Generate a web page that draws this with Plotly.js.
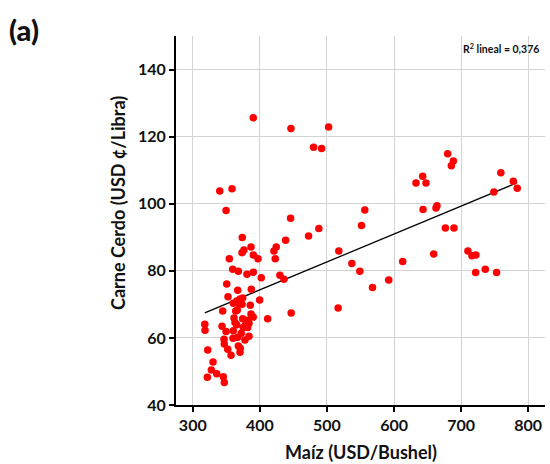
<!DOCTYPE html>
<html>
<head>
<meta charset="utf-8">
<script src="https://cdn.plot.ly/plotly-3.0.1.min.js"></script>
<style>html,body{margin:0;padding:0;background:#fff;}#chart{width:550px;height:464px;}</style>
</head>
<body>
<div id="chart"></div>
<script>
// Maíz (USD/Bushel)
const maiz = [390.2,446.3,502.4,480.1,492.0,340.2,358.5,349.6,556.4,445.8,
  551.5,487.9,472.6,373.8,438.4,386.8,424.4,376.3,373.4,421.0,
  390.2,397.2,354.5,422.9,517.7,537.1,549.0,359.5,367.9,390.2,
  380.8,402.1,429.9,435.9,350.6,387.2,367.0,352.5,399.7,370.4,
  374.4,365.5,360.4,368.5,373.4,385.7,364.0,366.4,344.6,516.7,
  446.7,386.8,390.2,411.6,361.5,374.4,381.8,317.9,318.3,343.6,
  362.9,365.5,378.3,383.8,381.8,375.3,349.6,360.4,372.3,367.0,
  360.0,377.8,383.8,346.6,347.0,367.9,370.8,352.1,370.4,357.0,
  322.3,330.2,327.7,335.7,321.7,345.5,347.0,
  567.9,592.1,612.9,659.1,643.2,662.5,664.0,632.7,642.7,647.6,
  679.9,688.4,685.4,676.5,689.3,710.1,716.1,722.0,721.6,736.0,
  752.8,759.2,748.8,777.7,783.6];
// Carne Cerdo (USD ¢/Libra)
const cerdo = [125.6,122.4,122.9,116.8,116.5,103.8,104.5,98.0,98.1,95.7,
  93.5,92.6,90.4,89.9,89.1,87.1,87.1,86.2,85.4,85.9,
  84.7,83.6,83.6,83.6,85.9,82.2,79.9,80.5,79.9,79.6,
  79.0,77.9,78.7,77.5,76.1,74.5,74.2,72.3,71.3,71.6,
  71.9,71.0,70.3,70.2,70.0,69.7,68.0,68.3,68.0,68.9,
  67.4,67.1,66.2,65.7,65.9,65.7,65.3,64.1,62.3,63.5,
  64.6,63.9,63.8,64.4,63.1,63.1,61.9,62.1,61.4,60.2,
  59.9,59.4,60.5,59.6,58.2,57.6,56.9,56.6,55.7,54.8,
  56.4,52.8,50.4,49.3,48.3,48.4,46.7,
  75.0,77.3,82.8,85.0,98.3,98.7,99.4,106.2,108.2,106.2,
  114.9,112.7,111.3,92.8,92.8,85.9,84.5,84.7,79.5,80.5,
  79.5,109.2,103.5,106.7,104.6];
const xTicks = [300,400,500,600,700,800];
const yTicks = [40,60,80,100,120,140];
const xTitle = 'Maíz (USD/Bushel)';
const yTitle = 'Carne Cerdo (USD ¢/Libra)';
const r2Label = 'R<sup>2</sup> lineal = 0,376';
const panelLabel = '(a)';

// least squares fit
const n = maiz.length;
const mx = maiz.reduce((a,b)=>a+b,0)/n;
const my = cerdo.reduce((a,b)=>a+b,0)/n;
let sxy=0, sxx=0;
for (let i=0;i<n;i++){ sxy += (maiz[i]-mx)*(cerdo[i]-my); sxx += (maiz[i]-mx)**2; }
const slope = sxy/sxx, icpt = my - slope*mx;
const xmin = Math.min(...maiz), xmax = Math.max(...maiz);

const FONT = 'Lato, sans-serif';
const W = 369; // plot width px
const H = 369; // plot height px
const traces = [
  {x:[xmin,xmax], y:[icpt+slope*xmin, icpt+slope*xmax], mode:'lines', type:'scatter',
   line:{color:'#000', width:1.3}, hoverinfo:'skip', showlegend:false},
  {x:maiz, y:cerdo, mode:'markers', type:'scatter',
   marker:{color:'#ff0000', size:7.5}, showlegend:false}
];
const layout = {
  width:550, height:464,
  margin:{l:176, r:5, t:36, b:59},
  paper_bgcolor:'#fff', plot_bgcolor:'#fff',
  font:{family:FONT, color:'#111'},
  xaxis:{range:[275,825], tickvals:xTicks, ticktext:xTicks.map(String),
    showgrid:true, gridcolor:'#d3d3d3', gridwidth:1, zeroline:false,
    showline:true, linecolor:'#000', linewidth:2,
    ticks:'outside', ticklen:5, tickwidth:2, tickcolor:'#000',
    tickfont:{family:FONT, size:16, weight:700, color:'#111'}},
  yaxis:{range:[40,150], tickvals:yTicks, ticktext:yTicks.map(String),
    showgrid:true, gridcolor:'#d3d3d3', gridwidth:1, zeroline:false,
    showline:true, linecolor:'#000', linewidth:2,
    ticks:'outside', ticklen:5, tickwidth:2, tickcolor:'#000',
    tickfont:{family:FONT, size:16, weight:700, color:'#111'}},
  annotations:[
    {text:xTitle, xref:'paper', yref:'paper', x:0.5, y:-(452-405)/H, xanchor:'center', yanchor:'middle',
     showarrow:false, font:{family:FONT, size:18, weight:700, color:'#111'}},
    {text:yTitle, xref:'paper', yref:'paper', x:(118-176)/W, y:(405-203)/H, xanchor:'center', yanchor:'middle',
     textangle:-90, showarrow:false, font:{family:FONT, size:18, weight:700, color:'#111'}},
    {text:r2Label, xref:'paper', yref:'paper', x:0.99, y:0.965, xanchor:'right', yanchor:'middle',
     showarrow:false, font:{family:FONT, size:10.5, weight:700, color:'#111'}},
    {text:panelLabel, xref:'paper', yref:'paper', x:(7-176)/W, y:(405-30)/H, xanchor:'left', yanchor:'middle',
     showarrow:false, font:{family:FONT, size:29, weight:900, color:'#111'}}
  ]
};
Plotly.newPlot('chart', traces, layout, {displayModeBar:false, staticPlot:true});
</script>
</body>
</html>
